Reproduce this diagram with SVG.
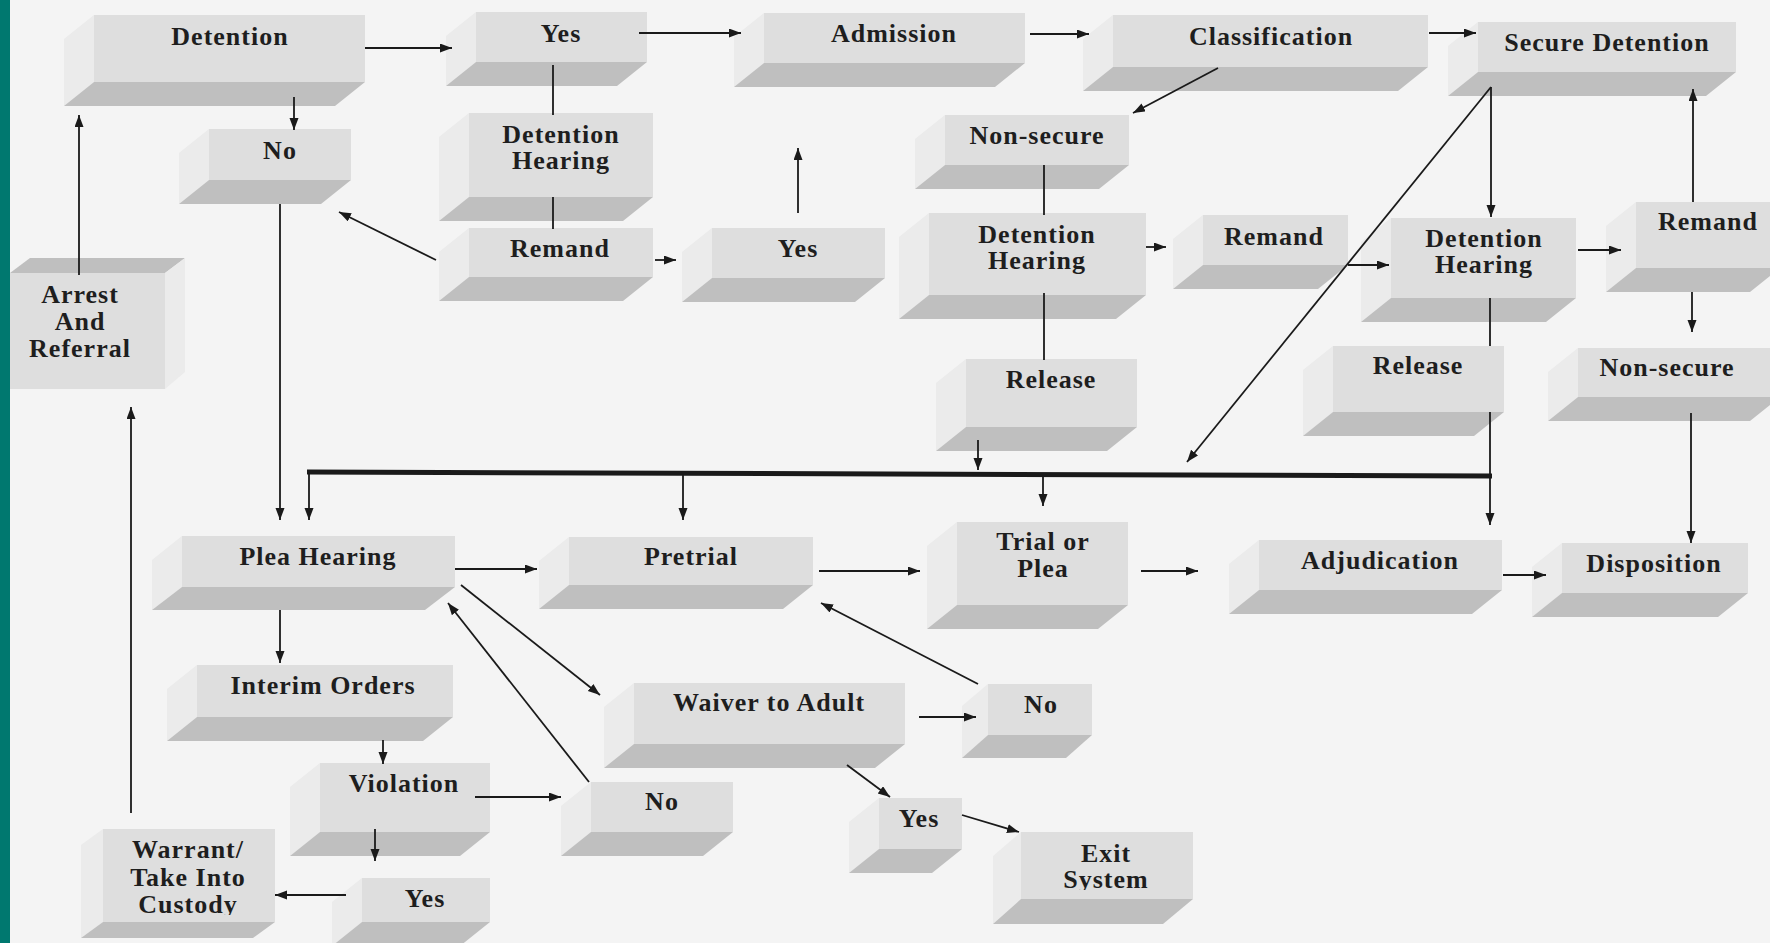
<svg xmlns="http://www.w3.org/2000/svg" width="1770" height="943" viewBox="0 0 1770 943">
<defs>
<style>
.bg{fill:#f4f4f4}
.fr{fill:#dedede}
.sd{fill:#ebebeb}
.bt{fill:#bfbfbf}
.t{font-family:"Liberation Serif","Times New Roman",serif;font-weight:bold;font-size:26px;letter-spacing:1px;fill:#1e1e1e;text-anchor:middle}
.c{stroke:#1a1a1a;stroke-width:1.8;fill:none}
.a{marker-end:url(#ah)}
.bus{stroke:#1a1a1a;stroke-width:5;fill:none}
</style>
<marker id="ah" markerUnits="userSpaceOnUse" markerWidth="12" markerHeight="10" refX="12" refY="4.5" orient="auto">
<path d="M0,0 L12,4.5 L0,9 Z" fill="#1a1a1a"/>
</marker>
<clipPath id="clipExit"><rect x="990" y="820" width="220" height="70"/></clipPath>
<clipPath id="clipWarrant"><rect x="80" y="820" width="210" height="95"/></clipPath>
</defs>
<rect class="bg" x="0" y="0" width="1770" height="943"/>
<rect x="0" y="0" width="10" height="943" fill="#00786f"/>

<g id="nodes">
<g id="n-detention"><polygon class="sd" points="94,15 64,39 64,106 94,82"/><polygon class="bt" points="94,82 365,82 335,106 64,106"/><rect class="fr" x="94" y="15" width="271" height="67"/><text class="t" x="230" y="45">Detention</text></g>
<g id="n-no1"><polygon class="sd" points="209,129 179,153 179,204 209,180"/><polygon class="bt" points="209,180 351,180 321,204 179,204"/><rect class="fr" x="209" y="129" width="142" height="51"/><text class="t" x="280" y="159">No</text></g>
<g id="n-yes1"><polygon class="sd" points="476,12 446,36 446,86 476,62"/><polygon class="bt" points="476,62 647,62 617,86 446,86"/><rect class="fr" x="476" y="12" width="171" height="50"/><text class="t" x="561" y="42">Yes</text></g>
<g id="n-dethear1"><polygon class="sd" points="469,113 439,137 439,221 469,197"/><polygon class="bt" points="469,197 653,197 623,221 439,221"/><rect class="fr" x="469" y="113" width="184" height="84"/><text class="t" x="561" y="143">Detention<tspan x="561" dy="26">Hearing</tspan></text></g>
<g id="n-remand1"><polygon class="sd" points="469,228 439,252 439,301 469,277"/><polygon class="bt" points="469,277 653,277 623,301 439,301"/><rect class="fr" x="469" y="228" width="184" height="49"/><text class="t" x="560" y="257">Remand</text></g>
<g id="n-arrest"><polygon class="bt" points="10,273 165,273 185,258 30,258"/><polygon class="sd" points="165,273 185,258 185,372 165,389"/><rect class="fr" x="10" y="273" width="155" height="116"/><text class="t" x="80" y="303">Arrest<tspan x="80" dy="27">And</tspan><tspan x="80" dy="27">Referral</tspan></text></g>
<g id="n-yes2"><polygon class="sd" points="712,228 682,252 682,302 712,278"/><polygon class="bt" points="712,278 885,278 855,302 682,302"/><rect class="fr" x="712" y="228" width="173" height="50"/><text class="t" x="798" y="257">Yes</text></g>
<g id="n-admission"><polygon class="sd" points="764,13 734,37 734,87 764,63"/><polygon class="bt" points="764,63 1025,63 995,87 734,87"/><rect class="fr" x="764" y="13" width="261" height="50"/><text class="t" x="894" y="42">Admission</text></g>
<g id="n-classification"><polygon class="sd" points="1113,15 1083,39 1083,91 1113,67"/><polygon class="bt" points="1113,67 1428,67 1398,91 1083,91"/><rect class="fr" x="1113" y="15" width="315" height="52"/><text class="t" x="1271" y="45">Classification</text></g>
<g id="n-nonsecure1"><polygon class="sd" points="945,115 915,139 915,189 945,165"/><polygon class="bt" points="945,165 1129,165 1099,189 915,189"/><rect class="fr" x="945" y="115" width="184" height="50"/><text class="t" x="1037" y="144">Non-secure</text></g>
<g id="n-dethear2"><polygon class="sd" points="929,213 899,237 899,319 929,295"/><polygon class="bt" points="929,295 1146,295 1116,319 899,319"/><rect class="fr" x="929" y="213" width="217" height="82"/><text class="t" x="1037" y="243">Detention<tspan x="1037" dy="26">Hearing</tspan></text></g>
<g id="n-release1"><polygon class="sd" points="966,359 936,383 936,451 966,427"/><polygon class="bt" points="966,427 1137,427 1107,451 936,451"/><rect class="fr" x="966" y="359" width="171" height="68"/><text class="t" x="1051" y="388">Release</text></g>
<g id="n-remand2"><polygon class="sd" points="1203,215 1173,239 1173,289 1203,265"/><polygon class="bt" points="1203,265 1348,265 1318,289 1173,289"/><rect class="fr" x="1203" y="215" width="145" height="50"/><text class="t" x="1274" y="245">Remand</text></g>
<g id="n-secure"><polygon class="sd" points="1478,22 1448,46 1448,96 1478,72"/><polygon class="bt" points="1478,72 1736,72 1706,96 1448,96"/><rect class="fr" x="1478" y="22" width="258" height="50"/><text class="t" x="1607" y="51">Secure Detention</text></g>
<g id="n-dethear3"><polygon class="sd" points="1391,218 1361,242 1361,322 1391,298"/><polygon class="bt" points="1391,298 1576,298 1546,322 1361,322"/><rect class="fr" x="1391" y="218" width="185" height="80"/><text class="t" x="1484" y="247">Detention<tspan x="1484" dy="26">Hearing</tspan></text></g>
<g id="n-remand3"><polygon class="sd" points="1636,202 1606,226 1606,292 1636,268"/><polygon class="bt" points="1636,268 1780,268 1750,292 1606,292"/><rect class="fr" x="1636" y="202" width="144" height="66"/><text class="t" x="1708" y="230">Remand</text></g>
<g id="n-release2"><polygon class="sd" points="1333,346 1303,370 1303,436 1333,412"/><polygon class="bt" points="1333,412 1504,412 1474,436 1303,436"/><rect class="fr" x="1333" y="346" width="171" height="66"/><text class="t" x="1418" y="374">Release</text></g>
<g id="n-nonsecure2"><polygon class="sd" points="1578,348 1548,372 1548,421 1578,397"/><polygon class="bt" points="1578,397 1780,397 1750,421 1548,421"/><rect class="fr" x="1578" y="348" width="202" height="49"/><text class="t" x="1667" y="376">Non-secure</text></g>
<g id="n-plea"><polygon class="sd" points="182,536 152,560 152,610 182,587"/><polygon class="bt" points="182,587 455,587 425,610 152,610"/><rect class="fr" x="182" y="536" width="273" height="51"/><text class="t" x="318" y="565">Plea Hearing</text></g>
<g id="n-pretrial"><polygon class="sd" points="569,537 539,561 539,609 569,585"/><polygon class="bt" points="569,585 813,585 783,609 539,609"/><rect class="fr" x="569" y="537" width="244" height="48"/><text class="t" x="691" y="565">Pretrial</text></g>
<g id="n-trial"><polygon class="sd" points="957,522 927,546 927,629 957,605"/><polygon class="bt" points="957,605 1128,605 1098,629 927,629"/><rect class="fr" x="957" y="522" width="171" height="83"/><text class="t" x="1043" y="550">Trial or<tspan x="1043" dy="27">Plea</tspan></text></g>
<g id="n-adjudication"><polygon class="sd" points="1259,540 1229,564 1229,614 1259,590"/><polygon class="bt" points="1259,590 1502,590 1472,614 1229,614"/><rect class="fr" x="1259" y="540" width="243" height="50"/><text class="t" x="1380" y="569">Adjudication</text></g>
<g id="n-disposition"><polygon class="sd" points="1562,543 1532,567 1532,617 1562,593"/><polygon class="bt" points="1562,593 1748,593 1718,617 1532,617"/><rect class="fr" x="1562" y="543" width="186" height="50"/><text class="t" x="1654" y="572">Disposition</text></g>
<g id="n-interim"><polygon class="sd" points="197,665 167,689 167,741 197,717"/><polygon class="bt" points="197,717 453,717 423,741 167,741"/><rect class="fr" x="197" y="665" width="256" height="52"/><text class="t" x="323" y="694">Interim Orders</text></g>
<g id="n-violation"><polygon class="sd" points="320,763 290,787 290,856 320,832"/><polygon class="bt" points="320,832 490,832 460,856 290,856"/><rect class="fr" x="320" y="763" width="170" height="69"/><text class="t" x="404" y="792">Violation</text></g>
<g id="n-yes3"><polygon class="sd" points="362,878 332,902 332,946 362,922"/><polygon class="bt" points="362,922 490,922 460,946 332,946"/><rect class="fr" x="362" y="878" width="128" height="44"/><text class="t" x="425" y="907">Yes</text></g>
<g id="n-warrant"><polygon class="sd" points="103,829 81,845 81,938 103,922"/><polygon class="bt" points="103,922 275,922 253,938 81,938"/><rect class="fr" x="103" y="829" width="172" height="93"/><g clip-path="url(#clipWarrant)"><text class="t" x="188" y="858">Warrant/<tspan x="188" dy="28">Take Into</tspan><tspan x="188" dy="27">Custody</tspan></text></g></g>
<g id="n-no2"><polygon class="sd" points="591,782 561,806 561,856 591,832"/><polygon class="bt" points="591,832 733,832 703,856 561,856"/><rect class="fr" x="591" y="782" width="142" height="50"/><text class="t" x="662" y="810">No</text></g>
<g id="n-waiver"><polygon class="sd" points="634,683 604,707 604,768 634,744"/><polygon class="bt" points="634,744 905,744 875,768 604,768"/><rect class="fr" x="634" y="683" width="271" height="61"/><text class="t" x="769" y="711">Waiver to Adult</text></g>
<g id="n-no3"><polygon class="sd" points="988,684 962,706 962,758 988,735"/><polygon class="bt" points="988,735 1092,735 1066,758 962,758"/><rect class="fr" x="988" y="684" width="104" height="51"/><text class="t" x="1041" y="713">No</text></g>
<g id="n-yes4"><polygon class="sd" points="879,798 849,822 849,873 879,849"/><polygon class="bt" points="879,849 962,849 932,873 849,873"/><rect class="fr" x="879" y="798" width="83" height="51"/><text class="t" x="919" y="827">Yes</text></g>
<g id="n-exit"><polygon class="sd" points="1021,832 993,856 993,924 1021,899"/><polygon class="bt" points="1021,899 1193,899 1163,924 993,924"/><rect class="fr" x="1021" y="832" width="172" height="67"/><g clip-path="url(#clipExit)"><text class="t" x="1106" y="862">Exit<tspan x="1106" dy="26">System</tspan></text></g></g>
</g>

<g id="connectors">
<path class="c a" d="M365,48 H452"/>
<path class="c a" d="M294,97 V130"/>
<path class="c a" d="M79,275 V115"/>
<path class="c" d="M553,65 V115"/>
<path class="c" d="M553,197 V229"/>
<path class="c a" d="M436,260 L339,212"/>
<path class="c a" d="M280,204 V520"/>
<path class="c a" d="M655,260 H676"/>
<path class="c a" d="M798,213 V148"/>
<path class="c a" d="M639,33 H741"/>
<path class="c a" d="M1030,34 H1089"/>
<path class="c a" d="M1218,68 L1133,113"/>
<path class="c a" d="M1429,33 H1476"/>
<path class="c" d="M1044,165 V215"/>
<path class="c a" d="M1146,247 H1166"/>
<path class="c" d="M1044,293 V360"/>
<path class="c a" d="M978,440 V470"/>
<path class="c a" d="M1348,265 H1389"/>
<path class="c a" d="M1491,87 V217"/>
<path class="c a" d="M1491,87 L1187,462"/>
<path class="c a" d="M1578,250 H1621"/>
<path class="c a" d="M1693,202 V89"/>
<path class="c a" d="M1692,292 V332"/>
<path class="c" d="M1490,298 V346"/>
<path class="c a" d="M1490,412 V525"/>
<path class="c a" d="M1691,413 V543"/>
<path class="bus" d="M307,472 L1492,476"/>
<path class="c a" d="M309,472 V520"/>
<path class="c a" d="M683,474 V520"/>
<path class="c a" d="M1043,475 V506"/>
<path class="c a" d="M455,569 H537"/>
<path class="c a" d="M819,571 H920"/>
<path class="c a" d="M1141,571 H1198"/>
<path class="c a" d="M1503,575 H1546"/>
<path class="c a" d="M461,585 L600,695"/>
<path class="c a" d="M589,782 L448,603"/>
<path class="c a" d="M280,610 V663"/>
<path class="c a" d="M383,740 V764"/>
<path class="c a" d="M475,797 H561"/>
<path class="c a" d="M375,829 V861"/>
<path class="c a" d="M346,895 H275"/>
<path class="c a" d="M131,813 V407"/>
<path class="c a" d="M919,717 H976"/>
<path class="c a" d="M978,684 L821,603"/>
<path class="c a" d="M847,765 L890,797"/>
<path class="c a" d="M962,815 L1019,832"/>
</g>
</svg>
